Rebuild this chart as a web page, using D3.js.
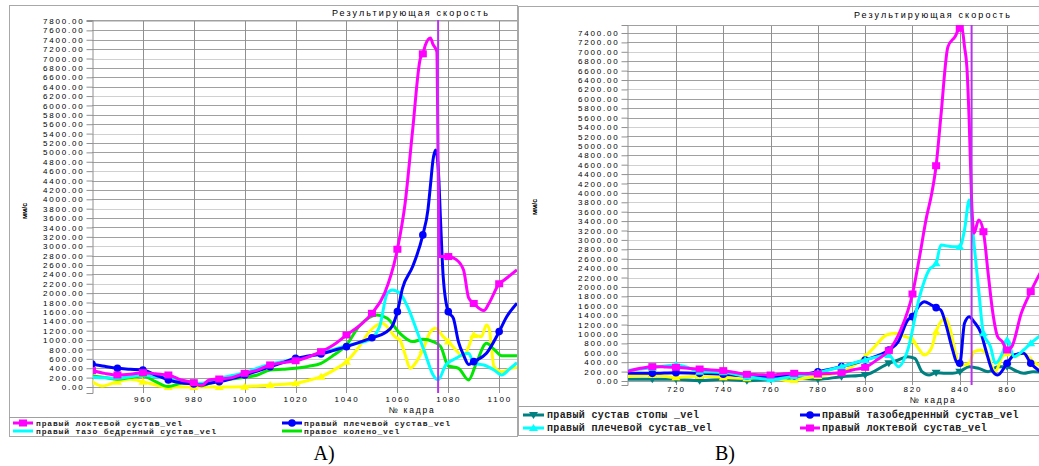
<!DOCTYPE html>
<html>
<head>
<meta charset="utf-8">
<script src="https://cdnjs.cloudflare.com/ajax/libs/d3/7.8.5/d3.min.js"></script>
<style>
body { margin: 0; background: #fff; }
svg { display: block; }
text { font-family: "Liberation Sans", Arial, sans-serif; }
</style>
</head>
<body>
<svg id="chart" width="1039" height="466"></svg>
<script>
// ---- texts ----
const titleText = "Результирующая скорость";
const xTitle = "№ кадра";
const yTitle = "мм/с";

// ---- ticks ----
const xTicksA = [960, 980, 1000, 1020, 1040, 1060, 1080, 1100];
const xTicksB = [720, 740, 760, 780, 800, 820, 840, 860];
const yTicksA = d3.range(0, 7801, 200);
const yTicksB = d3.range(0, 7401, 200);

// ---- panel A series: [frame, mm/s] ----
const elbowA = [[940,348],[945,290],[950,256],[955,270],[960,305],[965,280],[970,256],[975,150],[980,92],[983,30],[986,150],[990,170],[995,200],[1000,291],[1005,360],[1010,470],[1015,520],[1020,560],[1025,640],[1030,753],[1035,900],[1040,1109],[1045,1300],[1050,1570],[1055,2000],[1060,2935],[1063,3900],[1066,5480],[1069,7000],[1070,7100],[1071,7290],[1073,7440],[1074,7300],[1075.5,7150],[1076,4800],[1076.5,2780],[1080,2780],[1083,2720],[1086,2495],[1088,1900],[1090,1780],[1094,1628],[1096,1784],[1100,2200],[1102,2281],[1107,2495]];
const shoulderA = [[940,490],[945,440],[950,398],[955,380],[960,362],[965,256],[970,150],[975,92],[980,64],[983,43],[986,80],[990,114],[995,180],[1000,256],[1005,340],[1010,433],[1015,520],[1020,611],[1025,660],[1030,704],[1035,780],[1040,860],[1045,950],[1050,1050],[1055,1150],[1058,1300],[1060,1606],[1062,2100],[1066,2566],[1070,3241],[1072,3774],[1073,4300],[1074,4840],[1075,5050],[1076,4700],[1077,3490],[1078,2350],[1080,1606],[1082,1464],[1084,960],[1086,680],[1088,480],[1090,540],[1095,718],[1100,1180],[1103,1500],[1107,1784]];
const hipA = [[940,206],[945,195],[950,185],[955,220],[960,256],[965,220],[970,185],[975,130],[980,92],[983,78],[986,120],[990,185],[995,245],[1000,305],[1005,400],[1010,490],[1015,545],[1020,597],[1025,650],[1030,718],[1035,800],[1040,881],[1045,940],[1049,1002],[1053,1286],[1056,1997],[1058,2068],[1061,1997],[1064,1713],[1068,1144],[1071,700],[1074,260],[1076,150],[1079,469],[1083,611],[1086,700],[1088,718],[1090,505],[1094,469],[1098,362],[1101,256],[1104,380],[1107,519]];
const kneeA = [[940,235],[945,200],[950,163],[955,200],[960,235],[965,114],[970,10],[975,78],[980,92],[983,21],[986,80],[990,135],[995,170],[1000,206],[1005,256],[1010,362],[1015,380],[1020,398],[1025,440],[1030,505],[1035,680],[1040,895],[1045,1300],[1049,1480],[1052,1535],[1056,1464],[1061,1144],[1066,967],[1070,1016],[1074,967],[1077,860],[1080,450],[1084,398],[1088,150],[1091,505],[1095,931],[1098,803],[1101,668],[1107,668]];
const otherA = [[940,114],[944,21],[950,114],[955,163],[960,114],[965,43],[970,0],[980,0],[990,0],[1000,7],[1005,21],[1010,43],[1020,78],[1025,140],[1030,220],[1035,360],[1040,540],[1045,860],[1049,1180],[1052,1322],[1054,1357],[1057,1215],[1059,1073],[1061,1002],[1063,700],[1065,398],[1067,500],[1070,789],[1073,1180],[1075,1251],[1078,1073],[1080,967],[1083,789],[1086,647],[1088,860],[1090,1109],[1093,1073],[1095,1322],[1096,1250],[1098,433],[1101,327],[1105,398],[1107,420]];
const cursorA = 1076;

// ---- panel B series ----
const elbowB = [[699,198],[705,270],[710,305],[715,300],[720,291],[725,270],[730,255],[735,235],[740,220],[745,180],[750,142],[755,135],[760,128],[765,150],[770,163],[775,155],[780,149],[785,160],[790,177],[795,240],[800,291],[805,450],[810,645],[815,1084],[820,1850],[823,2644],[826,3500],[828,3950],[830,4578],[832,5620],[835,7110],[838,7322],[840,7500],[841,7480],[842,7110],[843,6683],[844,5500],[845,3849],[846,3140],[848,3423],[850,3175],[852,2289],[854,1439],[856,943],[858,836],[860,659],[862,730],[866,1439],[870,1900],[874,2300]];
const hipB = [[699,163],[710,163],[720,177],[730,163],[740,142],[750,106],[760,92],[770,110],[780,198],[790,305],[800,447],[810,659],[814,836],[818,1297],[820,1368],[823,1616],[825,1687],[828,1616],[830,1560],[832,1510],[834,1226],[837,659],[839,376],[840,376],[842,1226],[844,1368],[846,1262],[849,1014],[851,659],[854,198],[856,128],[860,376],[863,553],[867,588],[870,376],[874,200]];
const shoulderB = [[699,220],[710,284],[720,340],[724,305],[730,198],[740,184],[750,92],[760,35],[770,100],[780,177],[790,305],[800,447],[810,553],[814,305],[818,659],[823,1793],[827,2360],[830,2502],[832,2892],[837,2856],[840,2856],[842,3211],[844,3850],[846,2927],[848,1935],[850,1014],[853,730],[855,376],[858,588],[860,872],[863,517],[867,659],[870,801],[874,960]];
const otherB = [[699,92],[710,128],[720,78],[730,106],[740,78],[750,57],[760,92],[768,0],[770,21],[780,106],[790,198],[800,517],[804,730],[809,978],[813,1014],[817,943],[820,872],[823,659],[825,553],[828,695],[830,1049],[834,1333],[836,1084],[839,447],[841,340],[844,376],[846,624],[849,659],[852,517],[855,198],[858,517],[860,588],[863,517],[867,588],[870,447],[874,320]];
const ankleB = [[699,35],[710,35],[720,35],[730,7],[740,35],[750,7],[760,35],[770,57],[780,35],[790,92],[800,128],[810,376],[814,447],[818,517],[821,482],[824,198],[827,128],[830,177],[834,163],[837,163],[840,198],[844,305],[848,269],[852,198],[856,305],[860,305],[863,234],[867,163],[871,198],[874,190]];
const cursorB = 845;

const svg = d3.select("#chart");

const panels = [
  {
    id: "A", box: [9, 5, 517, 436], plot: [92, 20, 517, 393],
    xDomain: [940, 1107], yDomain: [-128, 7821], xTicks: xTicksA, yTicks: yTicksA,
    titleX: 411, titleY: 16, xTitleX: 412, xTitleY: 413, xPad: 3,
    yTitleX: 27, yTitleY: 211, sepY: 417, cursor: cursorA,
    series: [
      { data: otherA, color: "#ffff00", mark: "tri" },
      { data: kneeA, color: "#00e600", mark: null },
      { data: hipA, color: "#00ffff", mark: null },
      { data: shoulderA, color: "#0000ff", mark: "circle" },
      { data: elbowA, color: "#ff00ff", mark: "square" }
    ],
    legend: {
      font: 8, spacing: 0.85, rows: [423, 431], cols: [[13, 33, 36], [282, 302, 304]],
      items: [
        { name: "правый локтевой сустав_vel", color: "#ff00ff", mark: "square" },
        { name: "правый плечевой сустав_vel", color: "#0000ff", mark: "circle" },
        { name: "правый тазо бедренный сустав_vel", color: "#00ffff", mark: null },
        { name: "правое колено_vel", color: "#00e600", mark: null }
      ]
    },
    label: "A)", labelX: 324
  },
  {
    id: "B", box: [518, 6, 1045, 435], plot: [627, 25, 1039, 385],
    xDomain: [699.3, 873.5], yDomain: [-85, 7570], xTicks: xTicksB, yTicks: yTicksB,
    titleX: 933, titleY: 18, xTitleX: 933, xTitleY: 403, xPad: 1,
    yTitleX: 537, yTitleY: 207, sepY: 406, cursor: cursorB,
    series: [
      { data: ankleB, color: "#008080", mark: "tridown" },
      { data: otherB, color: "#ffff00", mark: "tri" },
      { data: hipB, color: "#0000ff", mark: "circle" },
      { data: shoulderB, color: "#00ffff", mark: "tri" },
      { data: elbowB, color: "#ff00ff", mark: "square" }
    ],
    legend: {
      font: 10, spacing: 0.35, rows: [415, 428], cols: [[523, 544, 547], [800, 820, 822]],
      items: [
        { name: "правый сустав стопы _vel", color: "#008080", mark: "tridown" },
        { name: "правый тазобедренный сустав_vel", color: "#0000ff", mark: "circle" },
        { name: "правый плечевой сустав_vel", color: "#00ffff", mark: "tri" },
        { name: "правый локтевой сустав_vel", color: "#ff00ff", mark: "square" }
      ]
    },
    label: "B)", labelX: 725
  }
];

function drawMark(g, type, x, y, color) {
  if (type === "square") {
    g.append("rect").attr("x", x - 4).attr("y", y - 3.5).attr("width", 8).attr("height", 7).attr("fill", color);
  } else if (type === "circle") {
    g.append("circle").attr("cx", x).attr("cy", y).attr("r", 3.8).attr("fill", color);
  } else if (type === "tri" || type === "tridown") {
    const s = type === "tri" ? 1 : -1;
    g.append("path")
      .attr("d", `M${x - 4.5},${y + 3 * s}L${x + 4.5},${y + 3 * s}L${x},${y - 4 * s}Z`)
      .attr("fill", color);
  }
}

panels.forEach(p => {
  const [bx0, by0, bx1, by1] = p.box;
  const [pl, pt, pr, pb] = p.plot;
  const g = svg.append("g");

  const x = d3.scaleLinear().domain(p.xDomain).range([pl, pr]);
  const y = d3.scaleLinear().domain(p.yDomain).range([pb, pt]);

  // panel frame
  g.append("rect").attr("x", bx0 + 0.5).attr("y", by0 + 0.5)
    .attr("width", bx1 - bx0).attr("height", by1 - by0)
    .attr("fill", "#fff").attr("stroke", "#a8a8a8");

  // grid
  g.append("g").selectAll("line").data(p.yTicks).join("line")
    .attr("x1", pl).attr("x2", pr)
    .attr("y1", d => Math.round(y(d)) + 0.5).attr("y2", d => Math.round(y(d)) + 0.5)
    .attr("stroke", (d, i) => i % 4 === 3 ? "#d0d0d0" : "#a0a0a0");
  g.append("g").selectAll("line").data(p.xTicks).join("line")
    .attr("x1", d => Math.round(x(d)) + 0.5).attr("x2", d => Math.round(x(d)) + 0.5)
    .attr("y1", pt).attr("y2", pb)
    .attr("stroke", "#909090");

  // plot frame lines
  g.append("line").attr("x1", pl).attr("x2", pr).attr("y1", pt + 0.5).attr("y2", pt + 0.5).attr("stroke", "#a0a0a0");
  g.append("line").attr("x1", bx0).attr("x2", bx1).attr("y1", p.sepY + 0.5).attr("y2", p.sepY + 0.5).attr("stroke", "#a0a0a0");

  // axes
  const yAxis = g.append("g").attr("transform", `translate(${pl + 0.5},0)`)
    .call(d3.axisLeft(y).tickValues(p.yTicks).tickSize(6).tickPadding(2).tickFormat(d => d.toFixed(2)));
  const xAxis = g.append("g").attr("transform", `translate(0,${pb})`)
    .call(d3.axisBottom(x).tickValues(p.xTicks).tickSize(0).tickPadding(p.xPad).tickFormat(d3.format("d")));
  [yAxis, xAxis].forEach(a => {
    a.select(".domain").attr("stroke", "#909090");
    a.selectAll(".tick line").attr("stroke", "#909090");
    a.selectAll("text").attr("fill", "#000").style("font-size", "8px").style("letter-spacing", "1.8px")
      .style("font-family", "'Liberation Sans', Arial, sans-serif");
  });
  xAxis.select(".domain").remove();

  // titles
  g.append("text").attr("x", p.titleX).attr("y", p.titleY).attr("text-anchor", "middle")
    .style("font-size", "9px").style("letter-spacing", "2.1px").text(titleText);
  g.append("text").attr("x", p.xTitleX).attr("y", p.xTitleY).attr("text-anchor", "middle")
    .style("font-size", "8.5px").style("letter-spacing", "1.8px").text(xTitle);
  g.append("text").attr("transform", `translate(${p.yTitleX},${p.yTitleY}) rotate(-90)`)
    .attr("text-anchor", "middle").style("font-size", "7px").style("font-weight", "bold").text(yTitle);

  // series
  const clipId = "clip" + p.id;
  g.append("clipPath").attr("id", clipId).append("rect")
    .attr("x", pl + 1).attr("y", pt).attr("width", pr - pl - 1).attr("height", pb - pt);
  const plotG = g.append("g").attr("clip-path", `url(#${clipId})`);
  const line = d3.line().x(d => x(d[0])).y(d => y(d[1])).curve(d3.curveMonotoneX);
  p.series.forEach(s => {
    plotG.append("path").datum(s.data).attr("d", line)
      .attr("fill", "none").attr("stroke", s.color).attr("stroke-width", 3).attr("stroke-linejoin", "round");
    if (s.mark) {
      s.data.filter(d => d[0] % 10 === 0).forEach(d => drawMark(plotG, s.mark, x(d[0]), y(d[1]), s.color));
    }
  });

  // cursor
  plotG.append("line").attr("x1", x(p.cursor)).attr("x2", x(p.cursor)).attr("y1", pt).attr("y2", pb)
    .attr("stroke", "#b933ee").attr("stroke-width", 2);

  // legend
  const L = p.legend;
  L.items.forEach((it, i) => {
    const row = L.rows[Math.floor(i / 2)];
    const [s0, s1, tx] = L.cols[i % 2];
    g.append("line").attr("x1", s0).attr("x2", s1).attr("y1", row).attr("y2", row)
      .attr("stroke", it.color).attr("stroke-width", 3);
    if (it.mark) drawMark(g, it.mark, (s0 + s1) / 2, row, it.color);
    g.append("text").attr("x", tx).attr("y", row).attr("dy", "0.33em")
      .style("font-family", "'Liberation Mono', monospace").style("font-weight", "bold")
      .style("font-size", L.font + "px").style("letter-spacing", L.spacing + "px")
      .attr("fill", "#222").text(it.name);
  });

  // sub-figure label
  svg.append("text").attr("x", p.labelX).attr("y", 460).attr("text-anchor", "middle")
    .style("font-family", "'Liberation Serif', 'Times New Roman', serif").style("font-size", "20px")
    .text(p.label);
});
</script>
</body>
</html>
